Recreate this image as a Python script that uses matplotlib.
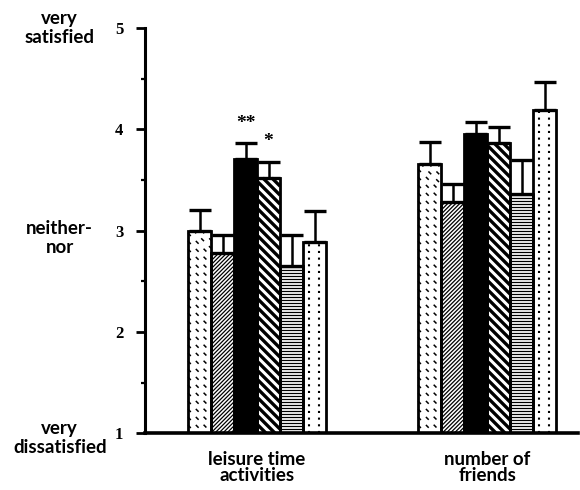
import numpy as np
import matplotlib
matplotlib.use('Agg')
from matplotlib import pyplot as plt
from matplotlib import transforms
from matplotlib.collections import LineCollection

# satisfaction ratings (mean + SE) for six groups
groups = ['leisure time\nactivities', 'number of\nfriends']
leisure_mean = [3.00, 2.78, 3.71, 3.52, 2.65, 2.89]
leisure_err = [0.20, 0.18, 0.15, 0.16, 0.31, 0.30]
friends_mean = [3.66, 3.28, 3.95, 3.86, 3.36, 4.19]
friends_err = [0.21, 0.18, 0.12, 0.16, 0.34, 0.28]
leisure_marks = ['', '', '**', '*', '', '']
friends_marks = ['', '', '', '', '', '']
scale_values = [5.0, 2.93, 0.95]
scale_words = ['very\nsatisfied', 'neither-\nnor', 'very\ndissatisfied']
fills = ['dash', 'fwd', 'solid', 'back', 'horiz', 'dots']

WORD_FONT = ['Lato', 'DejaVu Sans']
NUM_FONT = ['Liberation Serif', 'DejaVu Serif']


def diagonals(x0, y0, x1, y1, step, down):
    # 45 degree lines cut to the rectangle (pixel coords)
    h = y1 - y0
    segs = []
    for c in np.arange(x0 - h, x1, step):
        t0 = max(x0 - c, 0.0)
        t1 = min(x1 - c, h)
        if t1 <= t0:
            continue
        if down:
            segs.append([(c + t0, y1 - t0), (c + t1, y1 - t1)])
        else:
            segs.append([(c + t0, y0 + t0), (c + t1, y0 + t1)])
    return segs


def texture(ax, bar, kind):
    # fill pattern drawn in pixel space inside the bar
    (x0, y0), (x1, y1) = ax.transData.transform(bar.get_bbox().get_points())
    w = x1 - x0
    ls = 'solid'
    if kind == 'dash':
        segs = diagonals(x0, y0, x1, y1, 8, True)
        ls = (0, (2.6, 4.6))
        lw = 1.1
    elif kind == 'fwd':
        segs = diagonals(x0, y0, x1, y1, 4, False)
        lw = 0.9
    elif kind == 'back':
        segs = diagonals(x0, y0, x1, y1, 9, True)
        lw = 2.4
    elif kind == 'horiz':
        segs = [[(x0, y), (x1, y)] for y in np.arange(y0 + 1.5, y1, 3)]
        lw = 0.9
    elif kind == 'dots':
        segs = [[(x0 + f * w, y0), (x0 + f * w, y1)] for f in (0.27, 0.7)]
        ls = (0, (1, 2.2))
        lw = 1.5
    else:
        return
    lc = LineCollection(segs, colors='black', linewidths=lw, linestyles=ls,
                        transform=transforms.IdentityTransform(), zorder=1)
    lc.set_clip_path(bar)
    ax.add_collection(lc, autolim=False)


fig = plt.figure(figsize=(5.8, 4.9), dpi=100)
ax = fig.add_axes([0.25, 0.116, 0.747, 0.827])
ax.set_xlim(0, 18.83)
ax.set_ylim(1, 5)

group_start = [1.87, 11.87]
series = [(leisure_mean, leisure_err, leisure_marks),
          (friends_mean, friends_err, friends_marks)]

for start, (mean, err, marks) in zip(group_start, series):
    x = start + np.arange(len(mean))
    base = np.ones(len(mean))
    heights = np.array(mean) - base
    bars = ax.bar(x, heights, bottom=base, width=1.0, align='edge',
                  facecolor='none', edgecolor='black', linewidth=2.0, zorder=2)
    for bar, kind in zip(bars, fills):
        if kind == 'solid':
            bar.set_facecolor('black')
        else:
            texture(ax, bar, kind)
    ax.errorbar(x + 0.5, mean, yerr=[np.zeros(len(err)), err], fmt='none',
                ecolor='black', elinewidth=1.8, capsize=8, capthick=2.4, zorder=3)
    for xi, m, e, s in zip(x + 0.5, mean, err, marks):
        if s:
            ax.text(xi, m + e + 0.2, s, ha='center', va='center',
                    fontsize=14, fontweight='bold', family=NUM_FONT)

# axes styling
for side in ['top', 'right']:
    ax.spines[side].set_visible(False)
ax.spines['left'].set_linewidth(2.2)
ax.spines['bottom'].set_linewidth(2.6)

ax.set_yticks([1, 2, 3, 4, 5])
ax.set_yticks([1.5, 2.5, 3.5, 4.5], minor=True)
ax.tick_params(axis='y', which='major', direction='out', length=6.5, width=2,
               pad=9, labelsize=12)
ax.tick_params(axis='y', which='minor', direction='out', length=3, width=1.6)
for lab in ax.get_yticklabels():
    lab.set_family(NUM_FONT)
    lab.set_fontweight('bold')

ax.set_xticks(np.array(group_start) + 3, groups)
ax.tick_params(axis='x', length=0, pad=13)
for lab in ax.get_xticklabels():
    lab.set_family(WORD_FONT)
    lab.set_fontweight('bold')
    lab.set_fontsize(13.5)
    lab.set_linespacing(0.9)

# verbal anchors of the rating scale
trans = transforms.blended_transform_factory(fig.transFigure, ax.transData)
for yv, word in zip(scale_values, scale_words):
    ax.text(0.103, yv, word, transform=trans, ha='center', va='center',
            fontsize=13.5, fontweight='bold', family=WORD_FONT,
            linespacing=1.15, clip_on=False)

fig.savefig('out.png', dpi=100)
